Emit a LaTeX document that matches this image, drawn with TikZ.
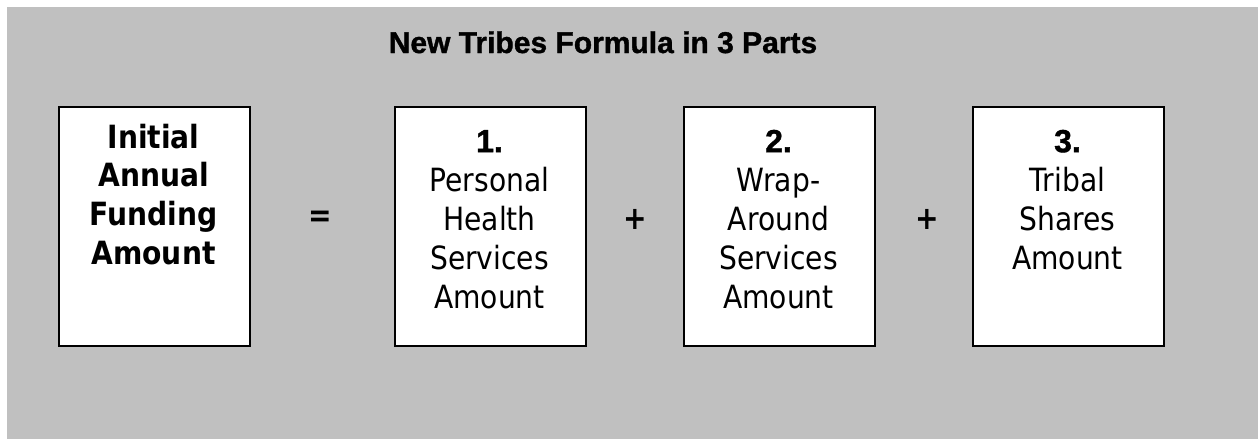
\documentclass[tikz,border=0pt]{standalone}
\usepackage{fontspec}
\setmainfont{DejaVu Sans}[FakeStretch=0.88]
\newfontfamily\numfont{Liberation Sans}[FakeBold=1.2]
\definecolor{bggray}{HTML}{C0C0C0}
\begin{document}
\begin{tikzpicture}[x=1pt,y=-1pt,
  partbox/.style={draw=black,line width=1.8pt,fill=white,minimum width=191pt,minimum height=239pt,inner sep=0pt,anchor=north west},
  parttext/.style={align=center,anchor=north,inner sep=0pt,font=\fontsize{32}{39}\selectfont},
  signtext/.style={font=\fontsize{32}{39}\selectfont\bfseries,inner sep=0pt},
  titletext/.style={font=\numfont\bfseries\fontsize{30}{36}\selectfont,anchor=base,inner sep=0pt}]
\useasboundingbox (0,0) rectangle (1258,439);
\fill[bggray] (7,7) rectangle (1258,439);
\node[titletext] (title) at (603,53) {New Tribes Formula in 3 Parts};
\node[partbox] (total) at (58,106) {};
\node[partbox] (p1) at (394,106) {};
\node[partbox] (p2) at (683,106) {};
\node[partbox] (p3) at (972,106) {};
\node[parttext,font=\fontsize{32}{38.7}\selectfont\bfseries] (ttotal) at (153.5,123) {\rule{0pt}{25pt}Initial\\Annual\\Funding\\Amount};
\node[parttext] (tp1) at (489.5,127) {\rule{0pt}{25pt}{\numfont\bfseries 1.}\\Personal\\Health\\Services\\Amount};
\node[parttext] (tp2) at (778.5,127) {\rule{0pt}{25pt}{\numfont\bfseries 2.}\\Wrap-\\Around\\Services\\Amount};
\node[parttext] (tp3) at (1067.5,127) {\rule{0pt}{25pt}{\numfont\bfseries 3.}\\Tribal\\Shares\\Amount};
\node[signtext] (eq) at (320,219) {=};
\node[signtext] (plus1) at (635,219) {+};
\node[signtext] (plus2) at (927,219) {+};
\end{tikzpicture}
\end{document}
